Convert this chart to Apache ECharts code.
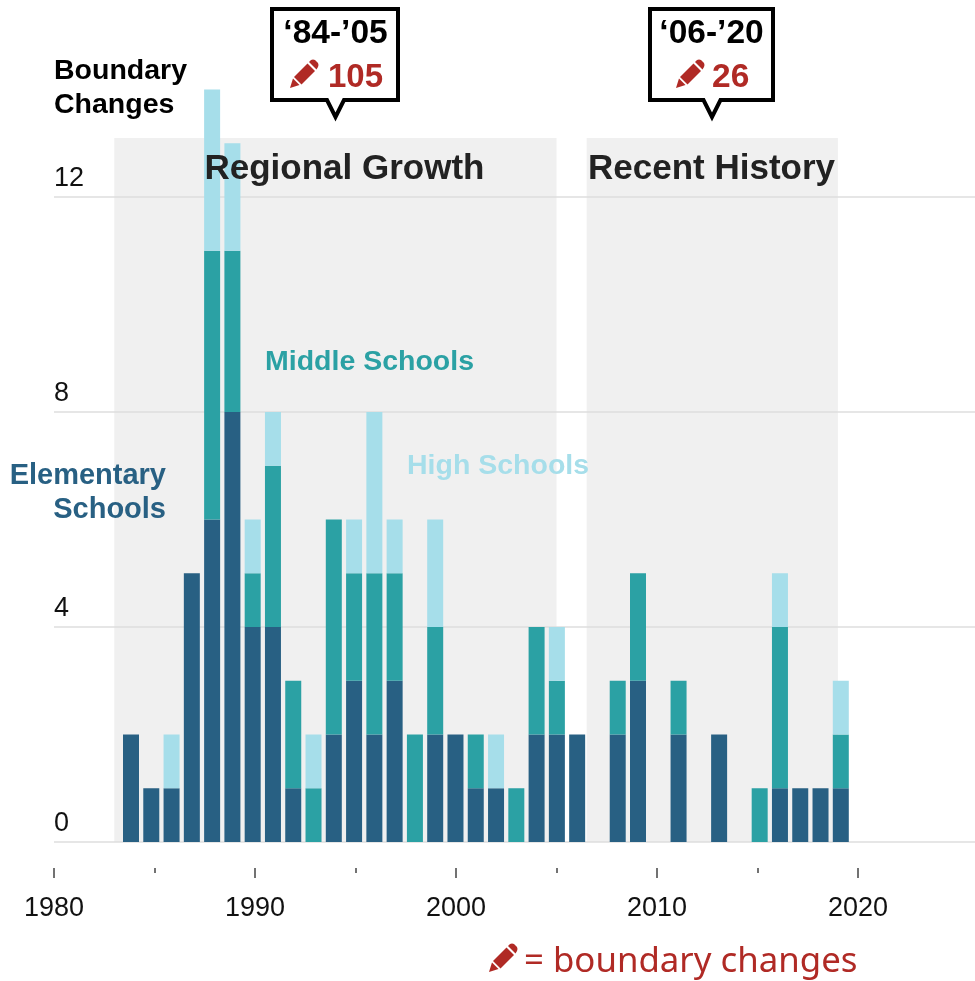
<!DOCTYPE html>
<html>
<head>
<meta charset="utf-8">
<style>html,body{margin:0;padding:0;background:#fff}#c{width:975px;height:981px}</style>
<script src="https://cdn.jsdelivr.net/npm/echarts@6/dist/echarts.min.js"></script>
</head>
<body>
<div id="c"></div>
<script>
const years = ['1984','1985','1986','1987','1988','1989','1990','1991','1992','1993','1994','1995','1996','1997','1998','1999','2000','2001','2002','2003','2004','2005','2006','2007','2008','2009','2010','2011','2012','2013','2014','2015','2016','2017','2018','2019'];
const elementary = [2,1,1,5,6,8,4,4,1,0,2,3,2,3,0,2,2,1,1,0,2,2,2,0,2,3,0,2,0,2,0,0,1,1,1,1];
const middle     = [0,0,0,0,5,3,1,3,2,1,4,2,3,2,2,2,0,1,0,1,2,1,0,0,1,2,0,1,0,0,0,1,3,0,0,1];
const high       = [0,0,1,0,3,2,1,1,0,1,0,1,3,1,0,2,0,0,1,0,0,1,0,0,0,0,0,0,0,0,0,0,1,0,0,1];
const eras = [[1983,2005,'Regional Growth'],[2006.5,2019,'Recent History']];
const bandTop = 13.1;
const yTicks = [0,4,8,12];

const RED='#B02A25', EL='#286083', MI='#2BA1A4', HI='#A6DEEA';
const AX='"Liberation Sans", Arial, sans-serif';

function txt(x,y,text,size,color,weight,align,font){
  return {type:'text',x:x,y:y,z:50,silent:true,style:{text:text,fontSize:size,fill:color,fontWeight:weight||'bold',fontFamily:font||AX,textAlign:align||'left',textVerticalAlign:'middle'}};
}
function pencil(x,y){
  const piece=pts=>({type:'polygon',silent:true,z:50,shape:{points:pts},style:{fill:RED}});
  return {type:'group',x:x,y:y,z:50,silent:true,children:[
    piece([[4,17],[17.5,3.5],[25,11],[11.5,24.5]]),
    piece([[3,18.5],[9.5,25],[0,28]]),
    piece([[19,2],[21,0],[23,-0.5],[25,0],[28,3],[28.5,5],[28,7],[26.5,9.5]])
  ]};
}
function callout(l,r,px){
  return {type:'polygon',z:49,silent:true,shape:{points:[[l,9],[r,9],[r,100],[px+8.5,100],[px,117],[px-8.5,100],[l,100]]},style:{fill:'#fff',stroke:'#000',lineWidth:4,lineJoin:'miter'}};
}

const mk=(name,vals,color)=>({type:'bar',name:name,stack:'s',xAxisIndex:2,yAxisIndex:2,barWidth:16,silent:true,itemStyle:{color:color},data:vals});

const option={
  animation:false,
  backgroundColor:'#fff',
  tooltip:{show:false},
  grid:[
    {left:54,width:804,top:89.5,height:752.5},
    {left:54,width:921,top:89.5,height:752.5},
    {left:120.86,width:730.08,top:89.5,height:752.5}
  ],
  xAxis:[
    {type:'value',gridIndex:0,min:1980,max:2020,interval:10,offset:26,position:'bottom',splitLine:{show:false},axisLine:{show:false,onZero:false},
     axisTick:{show:true,length:10,lineStyle:{color:'#444',width:1.5}},
     minorTick:{show:true,splitNumber:2,length:5,lineStyle:{color:'#444',width:1.5}},
     axisLabel:{margin:27,fontSize:27,color:'#111',fontFamily:AX,formatter:v=>String(v)}},
    {type:'value',gridIndex:1,min:0,max:1,show:false,splitLine:{show:false}},
    {type:'category',gridIndex:2,data:years,show:false}
  ],
  yAxis:[
    {type:'value',gridIndex:0,min:0,max:14,show:false,splitLine:{show:false}},
    {type:'value',gridIndex:1,min:0,max:14,interval:4,position:'left',z:1,
     axisLine:{show:false},axisTick:{show:false},
     splitLine:{show:true,showMaxLine:false,lineStyle:{color:'#dedede',width:1.5}},
     axisLabel:{inside:true,margin:0,align:'left',verticalAlign:'bottom',lineHeight:37,fontSize:27,color:'#111',fontFamily:AX,
       showMaxLabel:false,formatter:v=>yTicks.includes(v)?String(v):''}},
    {type:'value',gridIndex:2,min:0,max:14,show:false,splitLine:{show:false}}
  ],
  series:[
    {type:'line',xAxisIndex:0,yAxisIndex:0,z:-1,silent:true,data:[],symbol:'none',
     markArea:{z:-1,silent:true,itemStyle:{color:'#f0f0f0',opacity:1},label:{show:false},
       data:eras.map(e=>[{xAxis:e[0],yAxis:0},{xAxis:e[1],yAxis:bandTop}])}},
    mk('Elementary Schools',elementary,EL),
    mk('Middle Schools',middle,MI),
    mk('High Schools',high,HI)
  ],
  graphic:{elements:[
    txt(54,71,'Boundary',28.5,'#000'),
    txt(54,105,'Changes',28.5,'#000'),
    txt(344.5,169,eras[0][2],35,'#222','bold','center'),
    txt(711.5,169,eras[1][2],35,'#222','bold','center'),
    callout(272,398,335.5),
    txt(335.5,34,'‘84-’05',33.5,'#000','bold','center'),
    pencil(290,60),
    txt(328,78,'105',33,RED),
    callout(650,773,712),
    txt(711.5,34,'‘06-’20',33.5,'#000','bold','center'),
    pencil(676,60),
    txt(712,78,'26',33.5,RED),
    txt(265,362,'Middle Schools',28.5,MI),
    txt(407,466,'High Schools',28.5,HI),
    txt(166,476,'Elementary',29,EL,'bold','right'),
    txt(166,510,'Schools',29,EL,'bold','right'),
    pencil(489,944),
    txt(524,962,'= boundary changes',34.8,RED,'normal','left','"Noto Sans", sans-serif')
  ]}
};
const chart=echarts.init(document.getElementById('c'),null,{renderer:'canvas'});
chart.setOption(option);
</script>
</body>
</html>
